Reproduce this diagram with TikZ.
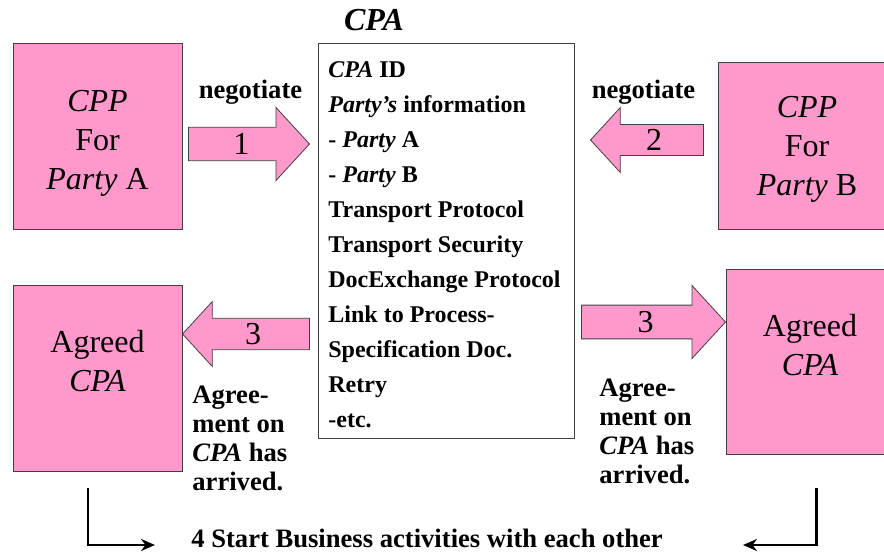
\documentclass[tikz,border=0pt]{standalone}
\usepackage{fontspec}
\setmainfont{Liberation Serif}
\usepackage{tikz}
\usetikzlibrary{arrows.meta,shapes.arrows,positioning}
\definecolor{cppink}{HTML}{FF99CC}

\begin{document}
\begin{tikzpicture}[x=1pt, y=-1pt, >={Stealth[length=14pt,width=12pt]}, line width=0.8pt,
	pinkbox/.style={draw=black!75, fill=cppink, inner sep=0pt},
	bigtext/.style={align=center, inner sep=0pt, font=\fontsize{32}{39}\selectfont},
	boldtext/.style={align=left, inner sep=0pt, font=\bfseries\fontsize{26.6}{29}\selectfont},
	listtext/.style={align=left, inner sep=0pt, font=\bfseries\fontsize{24}{35}\selectfont},
	blockarrow/.style={single arrow, draw=black!75, fill=cppink, anchor=tip, inner sep=0pt,
		single arrow tip angle=95, font=\fontsize{32}{32}\selectfont},
	flow/.style={->, line width=2.5pt}]
	\useasboundingbox (0,0) rectangle (884,553);

	% party boxes
	\node[pinkbox, minimum width=169pt, minimum height=186pt] (cppA)    at (97.5,136)   {};
	\node[pinkbox, minimum width=178pt, minimum height=167pt] (cppB)    at (807,145.5)  {};
	\node[pinkbox, minimum width=169pt, minimum height=186pt] (agreedA) at (97.5,378)   {};
	\node[pinkbox, minimum width=168pt, minimum height=185pt] (agreedB) at (810,361.5)  {};

	\node[bigtext] (cppAtxt)    at (97.5,143.5) {\textit{CPP}\\For\\\textit{Party} A};
	\node[bigtext] (cppBtxt)    at (807,149.5)  {\textit{CPP}\\For\\\textit{Party} B};
	\node[bigtext] (agreedAtxt) at (97.5,361.5) {Agreed\\\textit{CPA}};
	\node[bigtext] (agreedBtxt) at (810,345.5)  {Agreed\\\textit{CPA}};

	% the agreement itself
	\node[draw=black!75, minimum width=256pt, minimum height=395pt] (cpa) at (446,240.5) {};
	\node[inner sep=0pt, font=\bfseries\itshape\fontsize{32}{32}\selectfont] (cpatitle) at (374,20) {CPA};
	\node[listtext, anchor=west] (items) at (328,245) {\textit{CPA} ID\\
		\textit{Party's} information\\
		- \textit{Party} A\\
		- \textit{Party} B\\
		Transport Protocol\\
		Transport Security\\
		DocExchange Protocol\\
		Link to Process-\\
		Specification Doc.\\
		Retry\\
		-etc.};

	% block arrows
	\node[blockarrow, minimum height=121pt, minimum width=73pt, single arrow head extend=13pt] (neg1) at (310,144) {1};
	\node[blockarrow, minimum height=113pt, minimum width=65pt, single arrow head extend=12pt,
		shape border rotate=180] (neg2) at (590,140) {2};
	\node[blockarrow, minimum height=127pt, minimum width=65pt, single arrow head extend=12pt,
		shape border rotate=180] (sendA) at (182,334) {3};
	\node[blockarrow, minimum height=144pt, minimum width=73pt, single arrow head extend=13pt] (sendB) at (726,322) {3};

	\node[boldtext] (negA) at (250.5,92.5) {negotiate};
	\node[boldtext] (negB) at (643.5,92.5) {negotiate};
	\node[boldtext, anchor=west] (arrivedA) at (192,438) {Agree-\\ment on\\\textit{CPA} has\\arrived.};
	\node[boldtext, anchor=west] (arrivedB) at (599,431) {Agree-\\ment on\\\textit{CPA} has\\arrived.};

	% step 4
	\node[boldtext, anchor=west] (start) at (191,538) {4 Start Business activities with each other};
	\coordinate (endA) at (155,545);
	\coordinate (endB) at (743,545);
	\draw[flow] ([xshift=-9.5pt, yshift=-17pt]agreedA.south) |- (endA);
	\draw[flow] ([xshift=6.5pt, yshift=-34pt]agreedB.south) |- (endB);
\end{tikzpicture}
\end{document}
